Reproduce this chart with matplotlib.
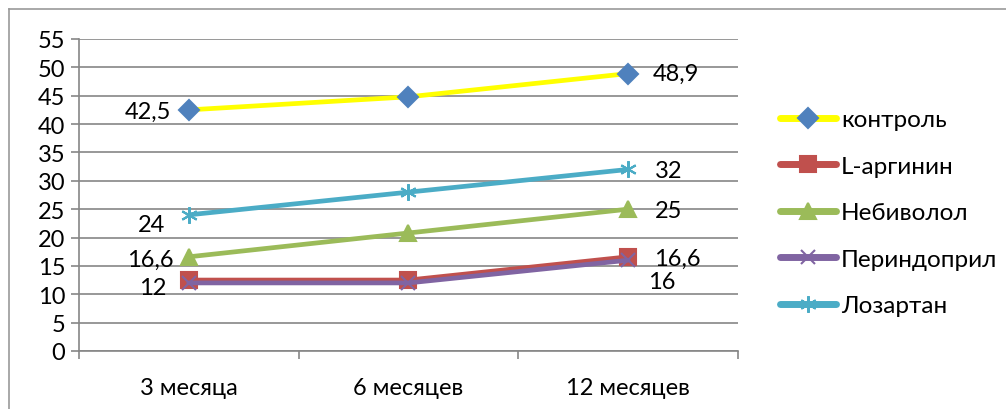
import matplotlib.pyplot as plt
from matplotlib.lines import Line2D

plt.rcParams['font.family'] = ['Lato', 'DejaVu Sans']

# periods and series values
periods = ["3 месяца", "6 месяцев", "12 месяцев"]
control = [42.5, 44.8, 48.9]
arginine = [12.5, 12.5, 16.6]
nebivolol = [16.6, 20.8, 25]
perindopril = [12, 12, 16]
losartan = [24, 28, 32]

series = [
    ("контроль", control, "#FFFF00", "D", "#4F81BD", 10),
    ("L-аргинин", arginine, "#C0504D", "s", "#C0504D", 11),
    ("Небиволол", nebivolol, "#9BBB59", "^", "#9BBB59", 12),
    ("Периндоприл", perindopril, "#8064A2", "x", "#8064A2", 10),
    ("Лозартан", losartan, "#4BACC6", (6, 2, 0), "#4BACC6", 12),
]

fig = plt.figure(figsize=(10.06, 4.10), dpi=100)
ax = fig.add_axes([0.0785, 0.1415, 0.655, 0.761])

x = list(range(len(periods)))
handles = []
for name, vals, col, mk, mcol, ms in series:
    ln, = ax.plot(x, vals, color=col, linewidth=3.4, marker=mk, markersize=ms,
                  markerfacecolor=mcol, markeredgecolor=mcol, markeredgewidth=1.5,
                  solid_capstyle="round", label=name)
    handles.append(ln)

# value labels
def label(i, val, text, dx, dy, ha):
    ax.annotate(text, (i, val), xytext=(dx, dy), textcoords="offset points",
                ha=ha, va="center", fontsize=17)

label(0, control[0], "42,5", -13, -1, "right")
label(2, control[2], "48,9", 18, 0, "left")
label(0, losartan[0], "24", -17, -7, "right")
label(2, losartan[2], "32", 19, -1, "left")
label(0, nebivolol[0], "16,6", -11, -2, "right")
label(2, nebivolol[2], "25", 19, -1, "left")
label(0, perindopril[0], "12", -16, -3, "right")
label(2, arginine[2], "16,6", 19, -1, "left")
label(2, perindopril[2], "16", 14, -15, "left")

ax.set_xlim(-0.5, 2.5)
ax.set_ylim(0, 55)
ax.set_yticks(range(0, 56, 5))
ax.set_xticks(x)
ax.set_xticklabels(periods, fontsize=17)
ax.set_xticks([-0.5, 0.5, 1.5, 2.5], minor=True)
ax.tick_params(axis="x", which="major", length=0, pad=19)
ax.tick_params(axis="x", which="minor", length=6, width=1.2, color="#868686")
ax.tick_params(axis="y", length=6, width=1.2, color="#868686", labelsize=17, pad=4)
ax.grid(axis="y", color="#868686", linewidth=1.2)
ax.set_axisbelow(True)
for s in ["top", "right"]:
    ax.spines[s].set_visible(False)
ax.spines["left"].set_color("#868686")
ax.spines["bottom"].set_color("#868686")
ax.spines["left"].set_linewidth(1.2)
ax.spines["bottom"].set_linewidth(1.2)

leg = fig.legend(handles=handles, loc="upper left", bbox_to_anchor=(0.766, 0.755),
                 frameon=False, fontsize=17.5, handlelength=2.3, handletextpad=0.2,
                 labelspacing=1.05, borderaxespad=0)
for h in leg.legend_handles:
    h.set_linewidth(5)

# chart border
fig.add_artist(Line2D([9 / 1006, 9 / 1006], [0, 1 - 10 / 410], color="#999999", linewidth=1.2))
fig.add_artist(Line2D([9 / 1006, 1], [1 - 10 / 410, 1 - 10 / 410], color="#999999", linewidth=1.2))

fig.savefig("out.png", dpi=100)
